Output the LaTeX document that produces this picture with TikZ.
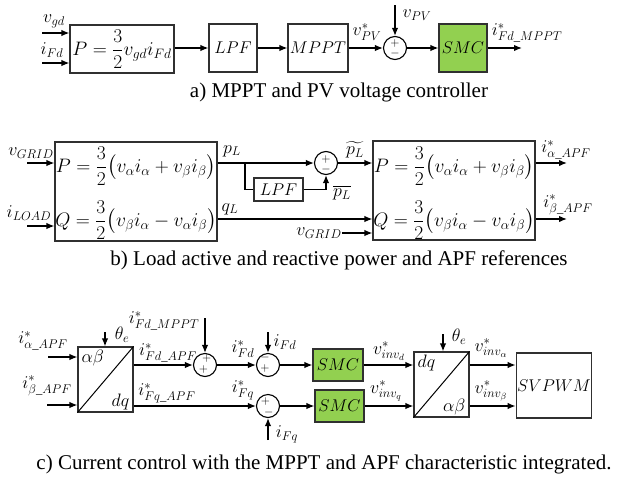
\RequirePackage{fix-cm}
\documentclass[tikz,border=0pt]{standalone}
\usepackage{amsmath}
\usepackage{fontspec}
\setmainfont{Liberation Serif}
\definecolor{SMCgreen}{HTML}{92D050}
\definecolor{BoxEdge}{HTML}{303030}
\usetikzlibrary{arrows.meta, positioning, calc}

\tikzset{
  blk/.style={draw=BoxEdge, line width=1.1pt, fill=white, inner sep=1pt,
    font=\fontsize{17}{20}\selectfont},
  smcblk/.style={blk, fill=SMCgreen},
  sumnode/.style={draw, circle, line width=1.1pt, minimum size=23pt, inner sep=0pt},
  sgn/.style={inner sep=0pt, align=center, font=\fontsize{12}{10.5}\selectfont},
  sig/.style={-{Latex[length=8pt,width=6.5pt]}, line width=1.4pt},
  wire/.style={line width=1.4pt},
  lbl/.style={inner sep=0pt, font=\fontsize{18}{21}\selectfont},
  eqn/.style={inner sep=0pt, font=\fontsize{19.5}{23}\selectfont},
  captxt/.style={inner sep=0pt, anchor=base, font=\fontsize{21}{25}\selectfont}
}

\begin{document}
\begin{tikzpicture}[x=1pt, y=-1pt]
  \useasboundingbox (0,0) rectangle (639,482);

  % a) MPPT and PV voltage controller
  \node[blk, minimum width=104pt, minimum height=48pt] (pcalc) at (122,49) {};
  \node[eqn] (pcalceq) at (122,49) {$P=\dfrac{3}{2}v_{gd}i_{Fd}$};
  \node[blk, minimum width=48pt, minimum height=48pt] (lpfa) at (233,48) {$LPF$};
  \node[blk, minimum width=60pt, minimum height=48pt] (mppt) at (318,48) {$MPPT$};
  \node[sumnode] (suma) at (395,48) {};
  \node[sgn] (sumasgn) at ($(suma)+(0,0.5)$) {$+$\\$-$};
  \node[smcblk, minimum width=48pt, minimum height=48pt] (smca) at (463,48) {$SMC$};
  \coordinate (vgdin) at (42,33);
  \coordinate (ifdin) at (42,63);
  \coordinate (vpvin) at (395,5);
  \coordinate (ifdout) at (522,48);
  \draw[sig] (vgdin) -- (vgdin -| pcalc.west);
  \draw[sig] (ifdin) -- (ifdin -| pcalc.west);
  \draw[sig] (pcalc.east |- lpfa) -- (lpfa.west);
  \draw[sig] (lpfa.east) -- (mppt.west);
  \draw[sig] (mppt.east) -- (suma.west);
  \draw[sig] (vpvin) -- (suma.north);
  \draw[sig] (suma.east) -- (smca.west);
  \draw[sig] (smca.east) -- (ifdout);
  \node[lbl] (vgdlbl) at (54,21) {$v_{gd}$};
  \node[lbl] (ifdlbl) at (52,50) {$i_{Fd}$};
  \node[lbl] (vpvref) at (367,32) {$v_{PV}^{*}$};
  \node[lbl] (vpvlbl) at (417,15) {$v_{PV}$};
  \node[lbl] (ifdmpptlbl) at (527,33) {$i_{Fd\_MPPT}^{*}$};
  \node[captxt] (capa) at (339,97) {a) MPPT and PV voltage controller};

  % b) Load active and reactive power and APF references
  \node[blk, minimum width=162pt, minimum height=99pt] (pqload) at (136,191.5) {};
  \node[eqn] (peql) at (136,166) {$P=\dfrac{3}{2}\big(v_{\alpha}i_{\alpha}+v_{\beta}i_{\beta}\big)$};
  \node[eqn] (qeql) at (136,220) {$Q=\dfrac{3}{2}\big(v_{\beta}i_{\alpha}-v_{\alpha}i_{\beta}\big)$};
  \node[blk, minimum width=162pt, minimum height=99pt] (pqref) at (454,190.5) {};
  \node[eqn] (peqr) at (454,166) {$P=\dfrac{3}{2}\big(v_{\alpha}i_{\alpha}+v_{\beta}i_{\beta}\big)$};
  \node[eqn] (qeqr) at (454,220) {$Q=\dfrac{3}{2}\big(v_{\beta}i_{\alpha}-v_{\alpha}i_{\beta}\big)$};
  \node[sumnode] (sumb) at (326,163) {};
  \node[sgn] (sumbsgn) at ($(sumb)+(0,1.5)$) {$+$\\$-$};
  \node[blk, minimum width=49pt, minimum height=23pt] (lpfb) at (278.5,189.5) {$LPF$};
  \coordinate (vgridin) at (27,163);
  \coordinate (iloadin) at (27,226);
  \coordinate (pbranch) at (245,163);
  \coordinate (qline) at (245,219);
  \coordinate (ialphaout) at (567,163);
  \coordinate (ibetaout) at (567,219);
  \draw[sig] (vgridin) -- (vgridin -| pqload.west);
  \draw[sig] (iloadin) -- (iloadin -| pqload.west);
  \draw[sig] (pqload.east |- sumb) -- (sumb.west);
  \draw[wire] (pbranch) |- (lpfb.west);
  \draw[sig] (lpfb.east) -| (sumb.south);
  \draw[sig] (sumb.east) -- (sumb.east -| pqref.west);
  \draw[sig] (pqload.east |- qline) -- (pqref.west |- qline);
  \node[lbl] (vgridb) at (319,233) {$v_{GRID}$};
  \draw[sig] (vgridb.east) -- (vgridb.east -| pqref.west);
  \draw[sig] (pqref.east |- ialphaout) -- (ialphaout);
  \draw[sig] (pqref.east |- ibetaout) -- (ibetaout);
  \node[lbl] (vgridlbl) at (31,153) {$v_{GRID}$};
  \node[lbl] (iloadlbl) at (29,213) {$i_{LOAD}$};
  \node[lbl] (pllbl) at (232,151) {$p_{L}$};
  \node[lbl] (qllbl) at (230,209) {$q_{L}$};
  \node[lbl] (pltilde) at (355,150) {$\widetilde{p_{L}}$};
  \node[lbl] (plbar) at (342,193) {$\overline{p_{L}}$};
  \node[lbl] (ialphalbl) at (566,150) {$i_{\alpha\_APF}^{*}$};
  \node[lbl] (ibetalbl) at (568,205) {$i_{\beta\_APF}^{*}$};
  \node[captxt] (capb) at (339,265) {b) Load active and reactive power and APF references};

  % c) Current control
  \node[blk, minimum width=55pt, minimum height=65pt] (abdq) at (105.5,379.5) {};
  \draw[line width=1pt] (abdq.south west) -- (abdq.north east);
  \node[lbl, anchor=north west] (abtxt) at ($(abdq.north west)+(4,3)$) {$\alpha\beta$};
  \node[lbl, anchor=south east] (dqtxt) at ($(abdq.south east)+(-4,-2)$) {$dq$};
  \node[blk, minimum width=55pt, minimum height=65pt] (dqab) at (441.5,384.5) {};
  \draw[line width=1pt] (dqab.south west) -- (dqab.north east);
  \node[lbl, anchor=north west] (dqtxtb) at ($(dqab.north west)+(4,3)$) {$dq$};
  \node[lbl, anchor=south east] (abtxtb) at ($(dqab.south east)+(-4,-2)$) {$\alpha\beta$};
  \node[blk, minimum width=70pt, minimum height=65pt] (svpwm) at (554,385.5) {$SVPWM$};
  \node[sumnode] (sumc1) at (205,365) {};
  \node[sgn] (sumc1sgn) at ($(sumc1)+(0,-1)$) {$\;+$\\$+\;$};
  \node[sumnode] (sumc2) at (268,365) {};
  \node[sgn] (sumc2sgn) at ($(sumc2)+(-3,-2)$) {$-$\\$+$};
  \node[sumnode] (sumc3) at (268,406) {};
  \node[sgn] (sumc3sgn) at ($(sumc3)+(-1,1)$) {$+\;$\\$\;-$};
  \node[smcblk, minimum width=50pt, minimum height=32pt] (smcd) at (338,365) {$SMC$};
  \node[smcblk, minimum width=49pt, minimum height=32pt] (smcq) at (339.5,406) {$SMC$};
  \coordinate (ialphain) at (48,357);
  \coordinate (ibetain) at (47,405);
  \coordinate (thetain) at (105,332);
  \coordinate (thetainb) at (443,334);
  \coordinate (ifdmpptin) at (205,318);
  \coordinate (ifdin) at (268,332);
  \coordinate (ifqin) at (268,440);
  \draw[sig] (ialphain) -- (ialphain -| abdq.west);
  \draw[sig] (ibetain) -- (ibetain -| abdq.west);
  \draw[sig] (thetain) -- (thetain |- abdq.north);
  \draw[sig] (abdq.east |- sumc1) -- (sumc1.west);
  \draw[sig] (ifdmpptin) -- (sumc1.north);
  \draw[sig] (sumc1.east) -- (sumc2.west);
  \draw[sig] (ifdin) -- (sumc2.north);
  \draw[sig] (sumc2.east) -- (smcd.west);
  \draw[sig] (abdq.east |- sumc3) -- (sumc3.west);
  \draw[sig] (ifqin) -- (sumc3.south);
  \draw[sig] (sumc3.east) -- (smcq.west);
  \draw[sig] (smcd.east) -- (smcd.east -| dqab.west);
  \draw[sig] (smcq.east) -- (smcq.east -| dqab.west);
  \draw[sig] (thetainb) -- (thetainb |- dqab.north);
  \draw[sig] (dqab.east |- smcd) -- (svpwm.west |- smcd);
  \draw[sig] (dqab.east |- smcq) -- (svpwm.west |- smcq);
  \node[lbl] (ialphainlbl) at (43,341) {$i_{\alpha\_APF}^{*}$};
  \node[lbl] (ibetainlbl) at (47,386) {$i_{\beta\_APF}^{*}$};
  \node[lbl] (thetalbl) at (122,335) {$\theta_{e}$};
  \node[lbl] (thetalblb) at (459,337) {$\theta_{e}$};
  \node[lbl] (ifdmpptlblc) at (164,321) {$i_{Fd\_MPPT}^{*}$};
  \node[lbl] (ifdapflbl) at (168,353) {$i_{Fd\_APF}^{*}$};
  \node[lbl] (ifqapflbl) at (167,393) {$i_{Fq\_APF}^{*}$};
  \node[lbl] (ifdref) at (243,349) {$i_{Fd}^{*}$};
  \node[lbl] (ifqref) at (243,390) {$i_{Fq}^{*}$};
  \node[lbl] (ifdlblc) at (285,342) {$i_{Fd}$};
  \node[lbl] (ifqlbl) at (287,434) {$i_{Fq}$};
  \node[lbl] (vinvdlbl) at (389,351) {$v_{inv_{d}}^{*}$};
  \node[lbl] (vinvqlbl) at (386,391) {$v_{inv_{q}}^{*}$};
  \node[lbl] (vinvalbl) at (491,348) {$v_{inv_{\alpha}}^{*}$};
  \node[lbl] (vinvblbl) at (491,391) {$v_{inv_{\beta}}^{*}$};
  \node[captxt] (capc) at (324,469) {c) Current control with the MPPT and APF characteristic integrated.};
\end{tikzpicture}
\end{document}
